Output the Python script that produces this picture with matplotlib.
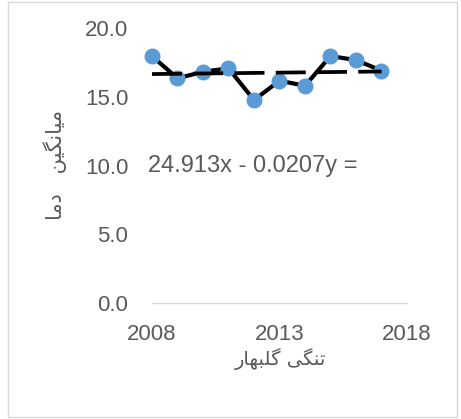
import numpy as np
import matplotlib.pyplot as plt
from matplotlib.patches import Rectangle

# data
years = [2008, 2009, 2010, 2011, 2012, 2013, 2014, 2015, 2016, 2017]
values = [17.96, 16.34, 16.82, 17.07, 14.76, 16.17, 15.80, 17.96, 17.67, 16.90]
slope = 0.0207
intercept = -24.913
eq_text = "24.913x - 0.0207y ="
x_ticks = [2008, 2013, 2018]
y_ticks = [0, 5, 10, 15, 20]

# persian labels written with presentation forms in visual order
x_title = "\ufead\ufe8e\ufeec\ufe92\ufee0\ufb94 \ufbfd\ufb95\ufee8\ufe97"  # تنگی گلبهار
y_title = "\ufe8e\ufee3\ufea9   \ufee6\ufbff\ufb95\ufee7\ufe8e\ufbff\ufee3"  # میانگین دما

grey = '#595959'

fig = plt.figure(figsize=(4.61, 4.19), dpi=100)
ax = fig.add_axes([0.3297, 0.2768, 0.5531, 0.6563])

ax.plot(years, values, color='black', linewidth=3.0, zorder=2, clip_on=False)
ax.plot(years, values, 'o', color='#5B9BD5', markersize=10.5, zorder=3,
        clip_on=False)

tx = np.array([years[0], years[-1]])
ax.plot(tx, slope * tx + intercept, color='black', linewidth=2.7,
        linestyle=(0, (8, 3)), zorder=4, clip_on=False)

ax.set_xlim(2008, 2018)
ax.set_ylim(0, 20)
ax.set_xticks(x_ticks)
ax.set_yticks(y_ticks)
ax.set_yticklabels(['%.1f' % v for v in y_ticks])

for s in ['top', 'right', 'left']:
    ax.spines[s].set_visible(False)
ax.spines['bottom'].set_color('#D9D9D9')
ax.spines['bottom'].set_linewidth(1.0)
ax.tick_params(length=0, labelsize=16, labelcolor=grey)
ax.tick_params(axis='x', pad=15)
ax.tick_params(axis='y', pad=17)
for lab in ax.get_xticklabels() + ax.get_yticklabels():
    lab.set_family('Liberation Sans')

ax.text(2007.85, 10.0, eq_text, fontsize=17, color=grey,
        family='Liberation Sans', va='center', ha='left')

fig.text(280 / 461, 1 - 359 / 419, x_title, fontsize=14, color=grey,
         family='DejaVu Sans', ha='center', va='center')
fig.text(55 / 461, 1 - 165 / 419, y_title, fontsize=15, color=grey,
         family='DejaVu Sans', ha='center', va='center', rotation=90)

fig.patches.append(Rectangle((8 / 461, 2 / 419), 449 / 461, 415 / 419,
                             transform=fig.transFigure, fill=False,
                             edgecolor='#D9D9D9', linewidth=1.0))

fig.savefig('out.png', dpi=100)
